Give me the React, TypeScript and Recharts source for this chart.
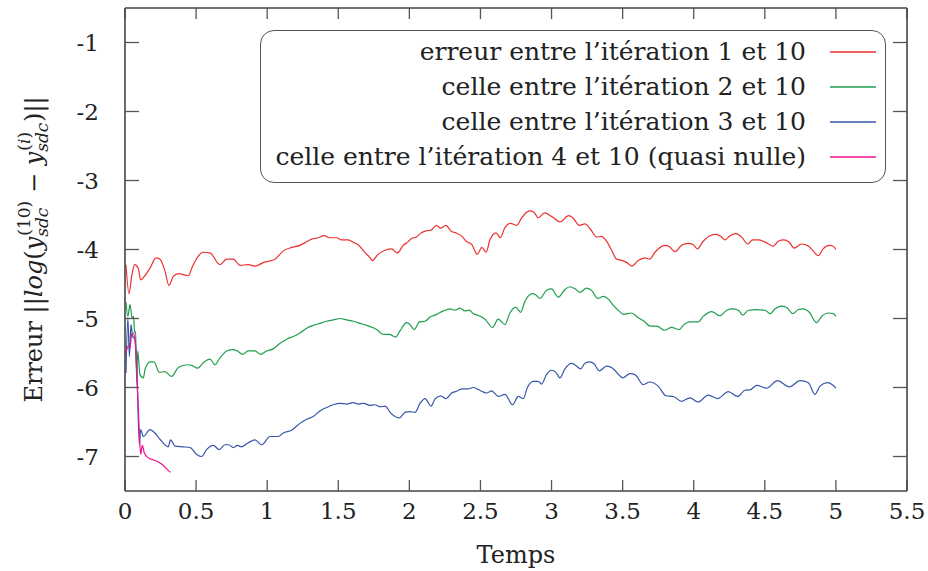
import React from 'react';
import { LineChart, Line, XAxis, YAxis } from 'recharts';

const xTicks = [0, 0.5, 1, 1.5, 2, 2.5, 3, 3.5, 4, 4.5, 5, 5.5];
const yTicks = [-7, -6, -5, -4, -3, -2, -1];

// [temps, erreur]
const iter1: [number, number][] = [
  [0.007, -4.22], [0.028, -4.64], [0.049, -4.36], [0.068, -4.22], [0.094, -4.28], [0.11, -4.44],
  [0.14, -4.38], [0.176, -4.27], [0.218, -4.12], [0.246, -4.14], [0.281, -4.31], [0.309, -4.52],
  [0.34, -4.39], [0.375, -4.35], [0.445, -4.38], [0.476, -4.24], [0.504, -4.13], [0.55, -4.04],
  [0.598, -4.05], [0.668, -4.22], [0.715, -4.14], [0.762, -4.14], [0.809, -4.23], [0.867, -4.22],
  [0.914, -4.24], [0.973, -4.19], [1.055, -4.14], [1.113, -4.02], [1.172, -3.97], [1.23, -3.94],
  [1.266, -3.9], [1.313, -3.85], [1.36, -3.83], [1.4, -3.8], [1.44, -3.83], [1.49, -3.83],
  [1.52, -3.86], [1.57, -3.86], [1.61, -3.9], [1.64, -3.93], [1.69, -4.05], [1.72, -4.11],
  [1.74, -4.16], [1.78, -4.07], [1.83, -4.01], [1.875, -3.99], [1.915, -4.05], [1.957, -3.94],
  [1.99, -3.89], [2.016, -3.84], [2.05, -3.82], [2.075, -3.77], [2.117, -3.73], [2.152, -3.72],
  [2.19, -3.65], [2.22, -3.69], [2.257, -3.65], [2.297, -3.74], [2.33, -3.76], [2.37, -3.81],
  [2.4, -3.88], [2.44, -3.93], [2.478, -4.07], [2.51, -3.97], [2.54, -4.04], [2.567, -3.86],
  [2.61, -3.76], [2.64, -3.83], [2.67, -3.69], [2.71, -3.62], [2.755, -3.65], [2.79, -3.54],
  [2.845, -3.44], [2.876, -3.46], [2.907, -3.54], [2.95, -3.47], [3.0, -3.52], [3.06, -3.6],
  [3.12, -3.51], [3.15, -3.54], [3.195, -3.65], [3.235, -3.63], [3.275, -3.71], [3.317, -3.82],
  [3.35, -3.81], [3.387, -3.88], [3.42, -4.0], [3.458, -4.14], [3.48, -4.15], [3.53, -4.19],
  [3.563, -4.24], [3.61, -4.16], [3.657, -4.12], [3.69, -4.14], [3.727, -4.04], [3.797, -3.94],
  [3.83, -3.96], [3.868, -4.03], [3.915, -3.94], [3.96, -3.91], [3.997, -3.93], [4.025, -3.99],
  [4.067, -3.88], [4.114, -3.8], [4.161, -3.78], [4.196, -3.82], [4.22, -3.86], [4.255, -3.8],
  [4.297, -3.77], [4.337, -3.82], [4.38, -3.92], [4.414, -3.86], [4.454, -3.86], [4.5, -3.89],
  [4.56, -3.95], [4.594, -3.88], [4.634, -3.86], [4.67, -3.89], [4.707, -3.98], [4.758, -3.92],
  [4.806, -3.95], [4.84, -4.02], [4.876, -4.09], [4.91, -3.99], [4.953, -3.94], [4.98, -3.95],
  [5.0, -4.0],
];

const iter2: [number, number][] = [
  [0.007, -4.76], [0.02, -4.97], [0.035, -4.8], [0.05, -4.99], [0.06, -4.97], [0.068, -5.2],
  [0.075, -5.19], [0.082, -5.91], [0.09, -5.47], [0.105, -5.81], [0.129, -5.86], [0.141, -5.74],
  [0.176, -5.63], [0.204, -5.63], [0.241, -5.78], [0.281, -5.77], [0.328, -5.84], [0.375, -5.71],
  [0.434, -5.67], [0.469, -5.68], [0.511, -5.72], [0.551, -5.64], [0.598, -5.59], [0.633, -5.67],
  [0.668, -5.57], [0.715, -5.47], [0.757, -5.45], [0.79, -5.47], [0.827, -5.52], [0.867, -5.47],
  [0.914, -5.47], [0.954, -5.52], [0.996, -5.47], [1.043, -5.44], [1.09, -5.36], [1.137, -5.3],
  [1.184, -5.26], [1.23, -5.21], [1.278, -5.14], [1.324, -5.1], [1.371, -5.07], [1.418, -5.04],
  [1.465, -5.02], [1.512, -5.0], [1.559, -5.02], [1.606, -5.04], [1.653, -5.07], [1.7, -5.1],
  [1.77, -5.16], [1.817, -5.23], [1.86, -5.23], [1.903, -5.27], [1.934, -5.18], [1.981, -5.06],
  [2.0, -5.08], [2.035, -5.16], [2.07, -5.05], [2.11, -5.04], [2.145, -4.98], [2.192, -4.94],
  [2.239, -4.89], [2.286, -4.86], [2.32, -4.88], [2.356, -4.85], [2.39, -4.89], [2.42, -4.88],
  [2.45, -4.93], [2.49, -4.96], [2.532, -5.01], [2.585, -5.13], [2.625, -5.01], [2.672, -5.09],
  [2.707, -4.92], [2.75, -4.84], [2.782, -4.91], [2.813, -4.75], [2.867, -4.64], [2.89, -4.66],
  [2.918, -4.71], [2.965, -4.59], [3.0, -4.57], [3.047, -4.69], [3.094, -4.58], [3.129, -4.54],
  [3.165, -4.57], [3.2, -4.62], [3.246, -4.56], [3.285, -4.6], [3.324, -4.71], [3.364, -4.68],
  [3.4, -4.72], [3.434, -4.81], [3.48, -4.9], [3.505, -4.94], [3.563, -4.92], [3.61, -4.99],
  [3.657, -5.05], [3.692, -5.11], [3.739, -5.11], [3.797, -5.17], [3.844, -5.13], [3.898, -5.16],
  [3.926, -5.1], [3.973, -5.05], [4.032, -5.05], [4.067, -4.97], [4.126, -4.9], [4.185, -4.96],
  [4.232, -4.88], [4.274, -4.86], [4.314, -4.88], [4.345, -4.95], [4.385, -4.88], [4.443, -4.87],
  [4.502, -4.88], [4.537, -4.93], [4.572, -4.86], [4.614, -4.82], [4.654, -4.84], [4.696, -4.93],
  [4.736, -4.87], [4.77, -4.86], [4.813, -4.91], [4.864, -5.06], [4.9, -4.97], [4.946, -4.92],
  [4.982, -4.93], [5.0, -4.97],
];

const iter3: [number, number][] = [
  [0.007, -5.79], [0.02, -4.99], [0.031, -5.55], [0.042, -5.09], [0.054, -5.26], [0.07, -5.3],
  [0.087, -6.0], [0.101, -6.83], [0.11, -6.61], [0.129, -6.71], [0.176, -6.61], [0.21, -6.66],
  [0.246, -6.75], [0.304, -6.86], [0.32, -6.76], [0.352, -6.85], [0.41, -6.86], [0.457, -6.87],
  [0.504, -6.97], [0.539, -7.0], [0.574, -6.9], [0.621, -6.84], [0.663, -6.9], [0.703, -6.83],
  [0.73, -6.83], [0.762, -6.87], [0.79, -6.84], [0.82, -6.86], [0.867, -6.8], [0.914, -6.76],
  [0.961, -6.83], [1.02, -6.71], [1.078, -6.71], [1.113, -6.66], [1.172, -6.62], [1.23, -6.52],
  [1.278, -6.46], [1.324, -6.42], [1.371, -6.34], [1.418, -6.29], [1.465, -6.25], [1.512, -6.23],
  [1.559, -6.24], [1.606, -6.22], [1.64, -6.24], [1.68, -6.23], [1.723, -6.26], [1.757, -6.25],
  [1.793, -6.28], [1.83, -6.27], [1.864, -6.36], [1.93, -6.44], [1.969, -6.36], [2.004, -6.35],
  [2.04, -6.36], [2.075, -6.23], [2.11, -6.16], [2.152, -6.27], [2.18, -6.17], [2.22, -6.12],
  [2.258, -6.16], [2.297, -6.08], [2.337, -6.05], [2.372, -6.02], [2.41, -6.02], [2.45, -6.0],
  [2.485, -6.03], [2.515, -6.06], [2.543, -6.08], [2.579, -6.05], [2.626, -6.13], [2.672, -6.1],
  [2.726, -6.25], [2.766, -6.13], [2.801, -6.16], [2.83, -6.0], [2.871, -5.91], [2.906, -5.91],
  [2.93, -5.95], [2.965, -5.81], [3.0, -5.75], [3.03, -5.78], [3.059, -5.86], [3.094, -5.73],
  [3.141, -5.65], [3.17, -5.68], [3.204, -5.73], [3.235, -5.65], [3.27, -5.63], [3.3, -5.66],
  [3.336, -5.76], [3.387, -5.69], [3.43, -5.72], [3.48, -5.83], [3.5, -5.86], [3.552, -5.8],
  [3.59, -5.82], [3.645, -5.96], [3.692, -5.92], [3.75, -5.98], [3.805, -6.12], [3.856, -6.13],
  [3.915, -6.2], [3.973, -6.15], [4.032, -6.21], [4.102, -6.11], [4.168, -6.16], [4.243, -6.06],
  [4.309, -6.13], [4.36, -6.04], [4.4, -6.03], [4.443, -5.97], [4.513, -6.01], [4.588, -5.9],
  [4.673, -5.99], [4.748, -5.9], [4.806, -5.93], [4.853, -6.1], [4.888, -5.98], [4.94, -5.93],
  [4.975, -5.96], [5.0, -6.01],
];

const iter4: [number, number][] = [
  [0.007, -5.5], [0.023, -5.4], [0.035, -5.43], [0.047, -5.23], [0.059, -5.21], [0.07, -5.3],
  [0.087, -5.98], [0.101, -6.66], [0.11, -6.97], [0.122, -6.84], [0.136, -6.95], [0.164, -7.02],
  [0.2, -7.05], [0.234, -7.08], [0.27, -7.13], [0.293, -7.18], [0.32, -7.23],
];

const seriesNames = [
  'erreur entre l\u2019itération 1 et 10',
  'celle entre l\u2019itération 2 et 10',
  'celle entre l\u2019itération 3 et 10',
  'celle entre l\u2019itération 4 et 10 (quasi nulle)',
];
const seriesColors = ['#ee3030', '#1f9e4c', '#3656a8', '#ee1290'];
const seriesData = [iter1, iter2, iter3, iter4];

const FONT = '"DejaVu Serif", serif';
const AXIS = '#444';
const TICK = '#555';
const TXT = '#222';

const pts = (a: [number, number][]) => a.map(([t, v]) => ({ t, v }));

// tick lines point inwards (negative tickSize), labels drawn here
const BottomLabel = (p: any) => (
  <text x={p.x} y={p.y} textAnchor="middle" fontSize={23} fontFamily={FONT} fill={TXT}>
    {p.payload.value}
  </text>
);

const LeftLabel = (p: any) => (
  <text x={p.x} y={p.y + 8} textAnchor="end" fontSize={23} fontFamily={FONT} fill={TXT}>
    {p.payload.value}
  </text>
);

const NoLabel = () => <g />;

const YTitle = (p: any) => {
  const vb = p.viewBox || {};
  const cy = vb.y != null && vb.height ? vb.y + vb.height / 2 : 249;
  const bx = 42;
  const s = 17;
  return (
    <text
      x={bx}
      y={cy}
      transform={`rotate(-90 ${bx} ${cy})`}
      textAnchor="middle"
      fontSize={24}
      fontFamily={FONT}
      fill={TXT}
    >
      <tspan>Erreur ||</tspan>
      <tspan fontStyle="italic">log</tspan>
      <tspan>(</tspan>
      <tspan fontStyle="italic">y</tspan>
      <tspan fontSize={s} fontStyle="italic" dy={6}>sdc</tspan>
      <tspan fontSize={s} dx={-28} dy={-18}>(10)</tspan>
      <tspan dy={12}> − </tspan>
      <tspan fontStyle="italic">y</tspan>
      <tspan fontSize={s} fontStyle="italic" dy={6}>sdc</tspan>
      <tspan fontSize={s} dx={-28} dy={-18}>(<tspan fontStyle="italic">i</tspan>)</tspan>
      <tspan dx={10} dy={12}>)||</tspan>
    </text>
  );
};

const LegendBox = () => (
  <div
    style={{
      position: 'absolute',
      left: 260,
      top: 30,
      width: 626,
      height: 153,
      boxSizing: 'border-box',
      border: '1.3px solid #555',
      borderRadius: 14,
      paddingTop: 3,
      fontFamily: FONT,
      fontSize: 25,
      color: TXT,
    }}
  >
    {seriesNames.map((name, i) => (
      <div
        key={name}
        style={{ height: 35, display: 'flex', justifyContent: 'flex-end', alignItems: 'center' }}
      >
        <span style={{ whiteSpace: 'nowrap' }}>{name}</span>
        <svg width={46} height={6} style={{ marginLeft: 24, marginRight: 9 }}>
          <line x1={0} y1={3} x2={46} y2={3} stroke={seriesColors[i]} strokeWidth={1.3} />
        </svg>
      </div>
    ))}
  </div>
);

const axisLine = { stroke: AXIS, strokeWidth: 1.6 };
const tickLine = { stroke: TICK, strokeWidth: 1.3 };

export default function App() {
  return (
    <div style={{ position: 'absolute', left: 0, top: 0, width: 928, height: 571, background: '#fff' }}>
      <LineChart width={928} height={571} margin={{ top: 7, right: 20, bottom: 50, left: 65 }}>
        <XAxis
          dataKey="t"
          type="number"
          domain={[0, 5.5]}
          ticks={xTicks}
          interval={0}
          height={30}
          tickSize={-11}
          tickMargin={39}
          tickLine={tickLine}
          axisLine={axisLine}
          tick={BottomLabel}
          label={{ value: 'Temps', position: 'insideBottom', offset: -42, fontSize: 24, fontFamily: FONT, fill: TXT }}
        />
        <XAxis
          xAxisId="top"
          orientation="top"
          dataKey="t"
          type="number"
          domain={[0, 5.5]}
          ticks={xTicks}
          interval={0}
          height={1}
          tickSize={-11}
          tickMargin={0}
          tickLine={tickLine}
          axisLine={axisLine}
          tick={NoLabel}
        />
        <YAxis
          type="number"
          domain={[-7.5, -0.5]}
          ticks={yTicks}
          interval={0}
          width={60}
          tickSize={-14}
          tickMargin={40}
          tickLine={tickLine}
          axisLine={axisLine}
          tick={LeftLabel}
          label={<YTitle />}
        />
        <YAxis
          yAxisId="right"
          orientation="right"
          type="number"
          domain={[-7.5, -0.5]}
          ticks={yTicks}
          interval={0}
          width={1}
          tickSize={-14}
          tickMargin={0}
          tickLine={tickLine}
          axisLine={axisLine}
          tick={NoLabel}
        />
        {seriesData.map((d, i) => (
          <Line
            key={seriesNames[i]}
            data={pts(d)}
            dataKey="v"
            name={seriesNames[i]}
            xAxisId={i === 0 ? 'top' : 0}
            yAxisId={i === 0 ? 'right' : 0}
            type="monotone"
            stroke={seriesColors[i]}
            strokeWidth={1.2}
            dot={false}
            activeDot={false}
            isAnimationActive={false}
          />
        ))}
      </LineChart>
      <LegendBox />
    </div>
  );
}
